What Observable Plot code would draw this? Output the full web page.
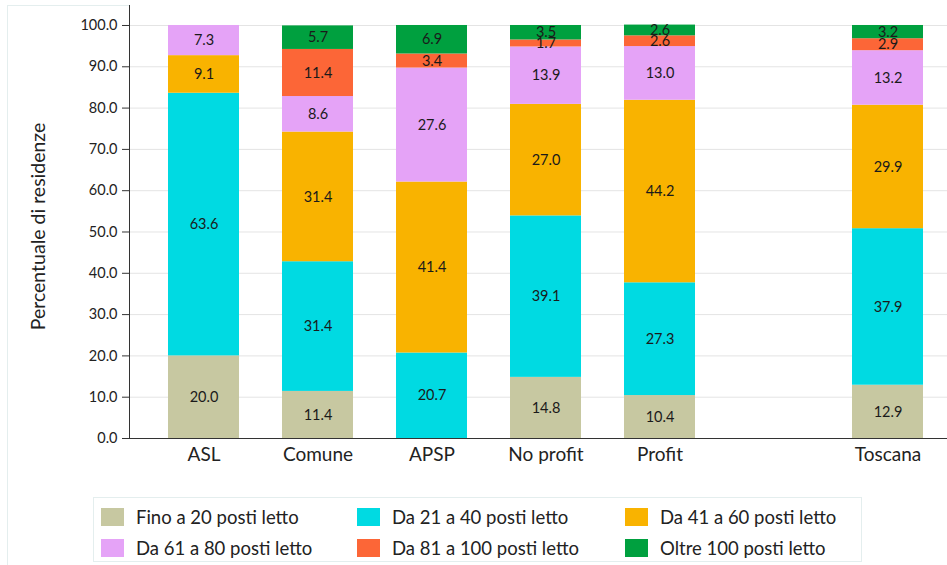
<!DOCTYPE html>
<html><head><meta charset="utf-8">
<script src="https://cdn.jsdelivr.net/npm/d3@7"></script>
<script src="https://cdn.jsdelivr.net/npm/@observablehq/plot@0.6"></script>
<style>
body{margin:0;background:#fff;font-family:Lato, "Noto Sans", sans-serif;color:#222}
#wrap{position:relative;width:947px;height:565px;overflow:hidden;background:#fff}
#box{position:absolute;left:7px;top:5px;width:122px;height:600px;border-left:1px solid #e4eeee;border-top:1px solid #e4eeee}
#chart{position:absolute;left:0;top:0}
#legend{position:absolute;left:93px;top:497px;width:769px;height:65px;box-sizing:border-box;border:1px solid #e4eeee;background:#fff;
  display:grid;grid-template-columns:256px 268px auto;justify-content:start;column-gap:0;row-gap:9px;padding:10px 7px 0 7px}
.item{display:flex;align-items:center;height:18px;font-size:18.5px;white-space:nowrap}
.sw{width:23px;height:18px;margin-right:12px;flex:none}
</style></head>
<body><div id="wrap"><div id="box"></div><div id="chart"></div><div id="legend"></div></div>
<script>
const categories = ["ASL", "Comune", "APSP", "No profit", "Profit", "Toscana"];
const series = ["Fino a 20 posti letto", "Da 21 a 40 posti letto", "Da 41 a 60 posti letto",
                "Da 61 a 80 posti letto", "Da 81 a 100 posti letto", "Oltre 100 posti letto"];
const colors = ["#c7c8a1", "#00dae2", "#f9b300", "#e5a3f7", "#fc6637", "#00a03f"];
// values per series, in the order of categories
const fino20   = [20.0, 11.4, 0.0, 14.8, 10.4, 12.9];
const da21a40  = [63.6, 31.4, 20.7, 39.1, 27.3, 37.9];
const da41a60  = [9.1, 31.4, 41.4, 27.0, 44.2, 29.9];
const da61a80  = [7.3, 8.6, 27.6, 13.9, 13.0, 13.2];
const da81a100 = [0.0, 11.4, 3.4, 1.7, 2.6, 2.9];
const oltre100 = [0.0, 5.7, 6.9, 3.5, 2.6, 3.2];
const yTicks = [0, 10, 20, 30, 40, 50, 60, 70, 80, 90, 100];
const yLabel = "Percentuale di residenze";

const seriesValues = [fino20, da21a40, da41a60, da61a80, da81a100, oltre100];
const data = [];
series.forEach((s, si) => categories.forEach((c, ci) => data.push({cat: c, series: s, value: seriesValues[si][ci]})));

const spacer = " ";
const xDomain = [...categories.slice(0, 5), spacer, categories[5]];

const chart = Plot.plot({
  width: 947, height: 480,
  marginLeft: 129, marginRight: 0, marginTop: 5, marginBottom: 42,
  style: {background: "transparent", fontFamily: "Lato, 'Noto Sans', sans-serif", color: "#222"},
  x: {domain: xDomain, range: [167, 923.5], paddingInner: 0.373, paddingOuter: 0, label: null},
  y: {domain: [0, 104.84], label: null},
  color: {domain: series, range: colors},
  marks: [
    Plot.gridY(yTicks, {stroke: "#e4e4e4", strokeOpacity: 1}),
    Plot.barY(data, Plot.stackY({x: "cat", y: "value", fill: "series", order: series})),
    Plot.text(data, Plot.stackY({filter: d => d.value > 0, x: "cat", y: "value", z: "series", order: series,
      text: d => d.value.toFixed(1), fontSize: 14.5, fill: "#1a1a1a"})),
    Plot.axisY(yTicks, {tickFormat: d => d.toFixed(1), tickSize: 7, tickPadding: 5, fontSize: 14.5, stroke: "#333", label: null}),
    Plot.text([yLabel], {frameAnchor: "left", textAnchor: "middle", rotate: -90, dx: -91, dy: 4.5, fontSize: 19.5, fill: "#222"}),
    Plot.axisX({tickSize: 0, tickPadding: 9, fontSize: 19, tickFormat: d => d.trim()}),
    Plot.frame({anchor: "left", stroke: "#333"}),
    Plot.frame({anchor: "bottom", stroke: "#333"})
  ]
});
document.getElementById("chart").appendChild(chart);

const legend = document.getElementById("legend");
series.forEach((s, i) => {
  const it = document.createElement("div");
  it.className = "item";
  it.innerHTML = `<span class="sw" style="background:${colors[i]}"></span><span>${s}</span>`;
  legend.appendChild(it);
});
</script></body></html>
